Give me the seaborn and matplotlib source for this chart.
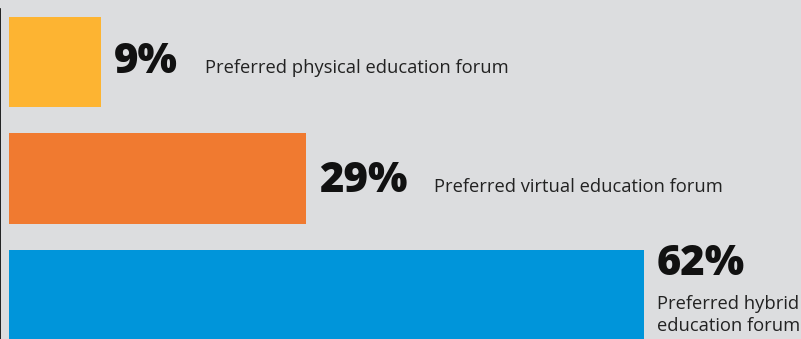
import matplotlib
matplotlib.use("Agg")
import matplotlib.pyplot as plt
import seaborn as sns
import pandas as pd

categories = ["Physical", "Virtual", "Hybrid"]
values = [9, 29, 62]
value_labels = ["9%", "29%", "62%"]
descriptions = ["Preferred physical education forum",
                "Preferred virtual education forum",
                "Preferred hybrid\neducation forum"]
colors = ["#FDB432", "#F07A30", "#0095DA"]

bg = "#DCDDDF"
sns.set_theme(style="white")
plt.rcParams["font.family"] = ["Open Sans", "DejaVu Sans"]

df = pd.DataFrame({"category": categories, "value": values})

fig = plt.figure(figsize=(8.01, 3.39), dpi=100)
fig.patch.set_facecolor(bg)
ax = fig.add_axes([0, 0, 1, 1])
ax.set_facecolor(bg)

sns.barplot(data=df, x="value", y="category", hue="category",
            palette=colors, width=0.78, orient="h", legend=False,
            saturation=1, linewidth=0, ax=ax)

ax.set_xlim(-0.879, 77.34)
ax.set_ylim(2.378, -0.532)
ax.set_xlabel("")
ax.set_ylabel("")
ax.set_xticks([])
ax.set_yticks([])
for s in ["top", "right", "bottom"]:
    ax.spines[s].set_visible(False)
ax.spines["left"].set_color("black")
ax.spines["left"].set_linewidth(1.2)
ax.spines["left"].set_zorder(5)
ax.spines["left"].set_bounds(2.378, -0.455)

fig.canvas.draw()
renderer = fig.canvas.get_renderer()

big_dy = [-11, -14, 20]  # baseline offset (pixels) relative to bar center
for i, (v, lab, desc) in enumerate(zip(values, value_labels, descriptions)):
    t = ax.annotate(lab, xy=(v, i), xytext=(13, big_dy[i]),
                    textcoords="offset pixels", ha="left", va="baseline",
                    fontsize=30, fontweight=800, color="#111111")
    if i < 2:
        fig.canvas.draw()
        bb = t.get_window_extent(renderer)
        ax.annotate(desc, xy=(v, i), xytext=(13 + bb.width + 27, big_dy[i]),
                    textcoords="offset pixels", ha="left", va="baseline",
                    fontsize=13.2, color="#222222")
    else:
        ax.annotate(desc, xy=(v, i), xytext=(13, -36),
                    textcoords="offset pixels", ha="left", va="baseline",
                    fontsize=13.2, color="#222222", linespacing=1.3)

fig.savefig("out.png", dpi=100, facecolor=bg)
